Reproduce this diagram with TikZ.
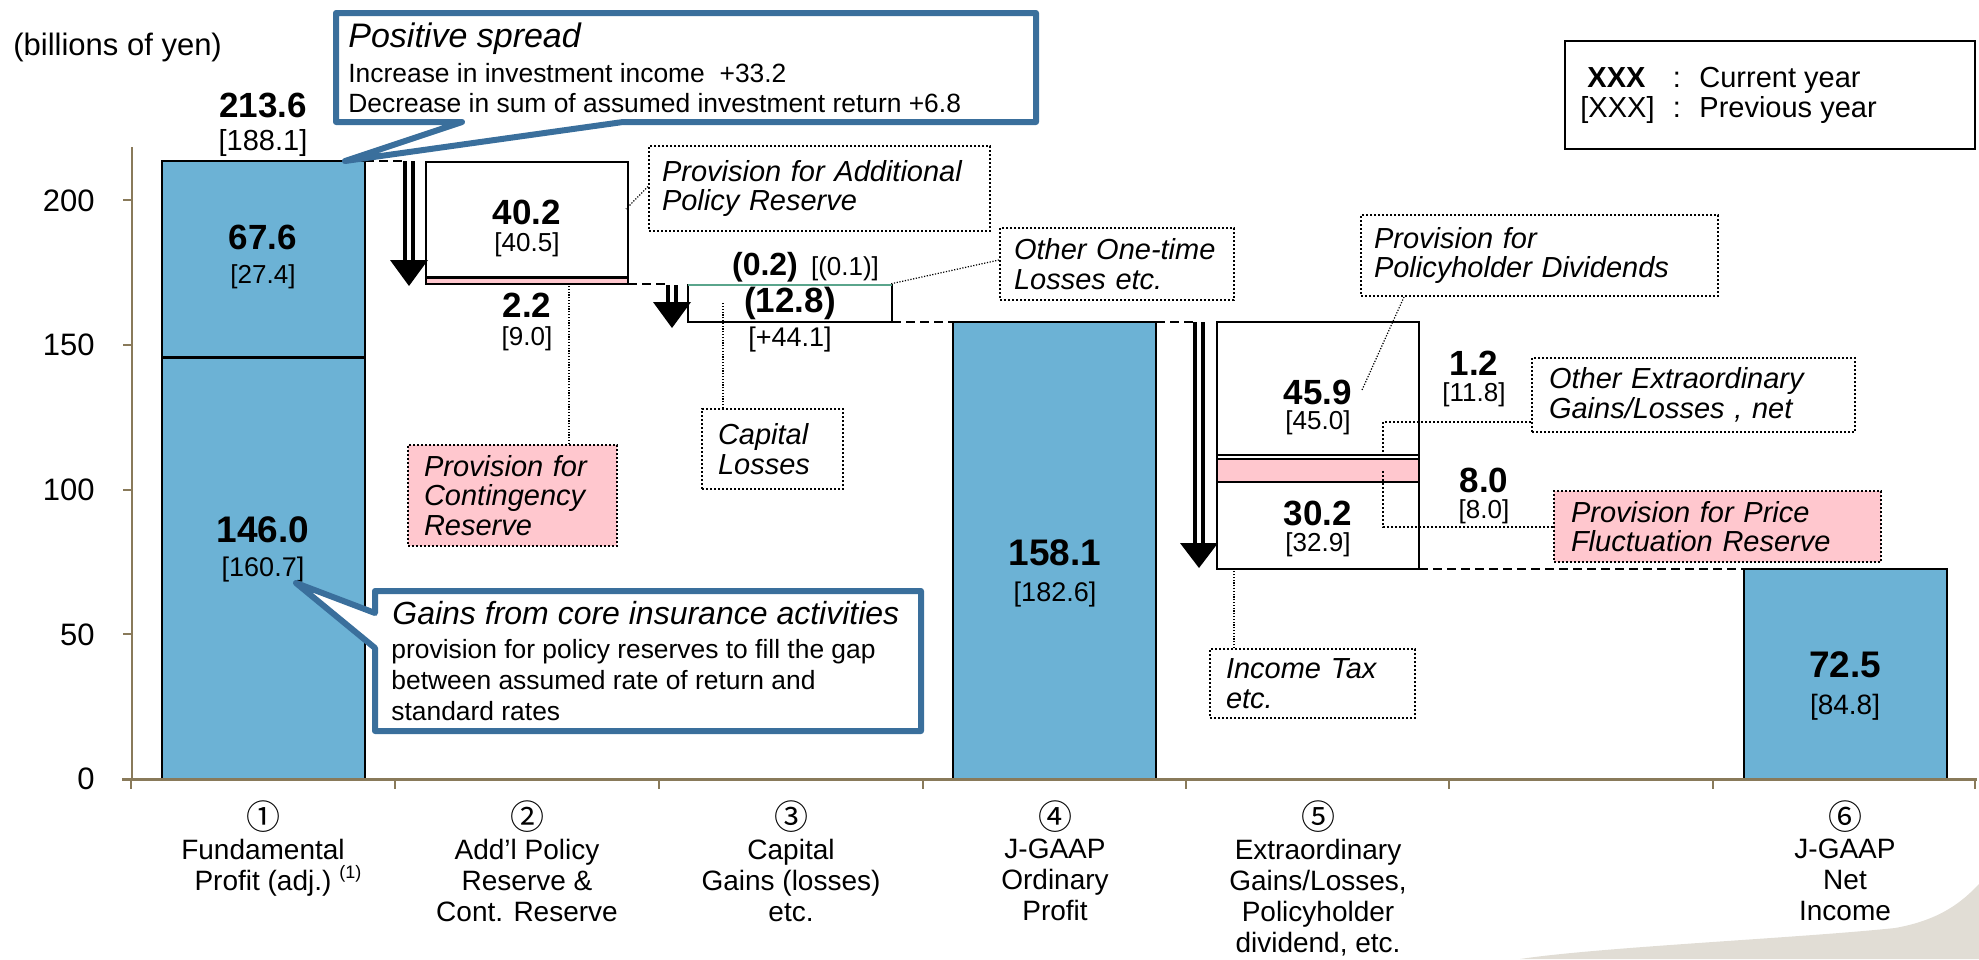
\documentclass[tikz,border=0pt]{standalone}
\usepackage{fontspec}
\setmainfont{Liberation Sans}
\newfontfamily\circfont{Noto Sans CJK JP}
\usetikzlibrary{calc}

\definecolor{barblue}{RGB}{108,178,213}
\definecolor{pinkfill}{RGB}{255,199,206}
\definecolor{calloutblue}{RGB}{58,111,156}
\definecolor{axiscol}{RGB}{137,122,90}
\definecolor{curlgrey}{RGB}{225,221,213}
\definecolor{slicegreen}{RGB}{90,165,140}

\tikzset{
  bar/.style={fill=barblue, draw=black, line width=1pt},
  stepbox/.style={fill=white, draw=black, line width=1pt},
  joinline/.style={draw=black, line width=1.2pt, dash pattern=on 4.5pt off 2.5pt},
  leader/.style={draw=black, line width=0.6pt, dash pattern=on 0.6pt off 0.8pt},
  elbow/.style={draw=black, line width=1pt, dash pattern=on 1pt off 1pt},
  note/.style={draw=black, line width=1pt, dash pattern=on 1pt off 1pt, fill=white,
    align=left, inner ysep=0pt, font=\fontsize{14.5pt}{14.75pt}\selectfont\itshape},
  pinknote/.style={note, fill=pinkfill},
  valbig/.style={font=\fontsize{18.5pt}{20pt}\selectfont\bfseries, inner sep=0pt},
  val/.style={font=\fontsize{17.5pt}{20pt}\selectfont\bfseries, inner sep=0pt},
  prev/.style={font=\fontsize{13pt}{15pt}\selectfont, inner sep=0pt},
  prevbig/.style={font=\fontsize{13.5pt}{15pt}\selectfont, inner sep=0pt},
  ytick/.style={font=\fontsize{15.5pt}{18pt}\selectfont, anchor=east, inner sep=0pt},
  catlabel/.style={font=\fontsize{14pt}{15.5pt}\selectfont, align=center, anchor=north, inner sep=0pt},
  circnum/.style={font=\circfont\fontsize{17pt}{18pt}\selectfont, inner sep=0pt},
  callout/.style={draw=calloutblue, line width=3pt, fill=white, line join=round},
  calltitle/.style={anchor=base west, inner sep=0pt, font=\itshape},
  calltext/.style={anchor=base west, inner sep=0pt, font=\fontsize{13.2pt}{15pt}\selectfont},
  legendtext/.style={inner sep=0pt, font=\fontsize{14.5pt}{16pt}\selectfont},
  shaft/.style={draw=black, line width=2pt},
}

% downward double-shafted arrow: x, shaft top, head base, tip
\newcommand\dblarrow[4]{%
  \fill[white] (#1-4,#2) rectangle (#1+4,#3);
  \draw[shaft] (#1-4,#2) -- (#1-4,#3+1);
  \draw[shaft] (#1+4,#2) -- (#1+4,#3+1);
  \fill[black] (#1-19,#3) -- (#1+19,#3) -- (#1,#4) -- cycle;}

\begin{document}
\begin{tikzpicture}[x=0.5pt,y=-0.5pt]
\useasboundingbox (0,0) rectangle (1979,959);

% page curl in the lower right corner
\fill[curlgrey] (1520,959) .. controls (1600,947) and (1800,938) .. (1895,928)
  .. controls (1940,920) and (1962,902) .. (1979,884) -- (1979,959) -- cycle;

% corner points of the waterfall
\coordinate (b1NE) at (365,161);
\coordinate (b2NW) at (426,162);
\coordinate (b2SE) at (628,284);
\coordinate (b3NW) at (688,285);
\coordinate (b3SE) at (892,322);
\coordinate (b4NW) at (953,322);
\coordinate (b4NE) at (1156,322);
\coordinate (b5NW) at (1217,322);
\coordinate (b5SE) at (1419,569);
\coordinate (b6NW) at (1744,569);

% bars and step boxes
\draw[bar] (162,161) rectangle (365,779);
\draw[line width=1.5pt] (162,357) -- (365,357);
\draw[stepbox] (b2NW) rectangle (628,277);
\draw[stepbox, fill=pinkfill] (426,277) rectangle (b2SE);
\draw[line width=1.5pt] (426,277) -- (628,277);
\draw[stepbox] (b3NW) rectangle (b3SE);
\draw[slicegreen, line width=1pt] (b3NW) -- (892,285);
\draw[bar] (b4NW) rectangle (1156,779);
\draw[stepbox] (b5NW) rectangle (b5SE);
\draw[line width=1pt] (1217,455) -- (1419,455);
\draw[stepbox, fill=pinkfill] (1217,459) rectangle (1419,482);
\draw[bar] (b6NW) rectangle (1947,779);

% dashed level joins
\draw[joinline] (b1NE) -- (403,161);
\draw[joinline] (b2SE) -- (666,284);
\draw[joinline] (b3SE) -- (b4NW);
\draw[joinline] (b4NE) -- (1193,322);
\draw[joinline] (b5SE) -- (b6NW);

% downward arrows
\dblarrow{409}{161}{260}{286}
\dblarrow{672}{285}{302}{328}
\dblarrow{1199}{322}{543}{568}

% axes
\draw[axiscol, line width=1pt] (132,147) -- (132,779);
\foreach \yy in {200.4,345,489.7,634.4,779}
  \draw[axiscol, line width=1pt] (123,\yy) -- (132,\yy);
\draw[axiscol, line width=1.5pt] (122,779) -- (1977,779);
\foreach \xx in {131,395,659,923,1186,1449,1713,1975}
  \draw[axiscol, line width=1pt] (\xx,779) -- (\xx,789);

\node[ytick] (y200) at (95,200.4) {200};
\node[ytick] (y150) at (95,345) {150};
\node[ytick] (y100) at (95,489.7) {100};
\node[ytick] (y50) at (95,634.4) {50};
\node[ytick] (y0) at (95,779) {0};
\node[anchor=west, inner sep=0pt, font=\fontsize{15.5pt}{18pt}\selectfont] (unit) at (13,47) {(billions of yen)};

% values: current year (bold) and previous year [in brackets]
\node[val] (v1tot) at (263,105) {213.6};
\node[inner sep=0pt, font=\fontsize{14.5pt}{16pt}\selectfont] (v1totp) at (263,143) {[188.1]};
\node[val] (v1a) at (263,237) {67.6};
\node[prev] (v1ap) at (263,277) {[27.4]};
\node[valbig] (v1b) at (263,530) {146.0};
\node[prevbig] (v1bp) at (263,570) {[160.7]};
\node[val] (v2a) at (527,212) {40.2};
\node[prev] (v2ap) at (527,245) {[40.5]};
\node[val] (v2b) at (527,305) {2.2};
\node[prev] (v2bp) at (527,339) {[9.0]};
\node[inner sep=0pt, anchor=base, font=\fontsize{16pt}{18pt}\selectfont\bfseries] (v3a) at (765,275) {(0.2)};
\node[inner sep=0pt, anchor=base, font=\fontsize{13pt}{15pt}\selectfont] (v3ap) at (845,275) {[(0.1)]};
\node[val] (v3b) at (790,303) {(12.8)};
\node[prevbig] (v3bp) at (790,340) {[+44.1]};
\node[valbig] (v4) at (1055,553) {158.1};
\node[prevbig] (v4p) at (1055,595) {[182.6]};
\node[val] (v5a) at (1318,392) {45.9};
\node[prev] (v5ap) at (1318,423) {[45.0]};
\node[val] (v5b) at (1318,513) {30.2};
\node[prev] (v5bp) at (1318,545) {[32.9]};
\node[val] (v5c) at (1474,363) {1.2};
\node[prev] (v5cp) at (1474,395) {[11.8]};
\node[val] (v5d) at (1484,480) {8.0};
\node[prev] (v5dp) at (1484,512) {[8.0]};
\node[valbig] (v6) at (1845,665) {72.5};
\node[prevbig, font=\fontsize{14pt}{15pt}\selectfont] (v6p) at (1845,707) {[84.8]};

% leader end points
\coordinate (addlend) at (626,209);
\coordinate (contend) at (569,284);
\coordinate (onetimeend) at (890,284);
\coordinate (capend) at (723,302);
\coordinate (pdfoot) at (1404,296);
\coordinate (pdend) at (1362,390);
\coordinate (oxend) at (1383,455);
\coordinate (pfend) at (1383,471);
\coordinate (taxend) at (1234,569);

% dotted notes
\node[note, inner xsep=6.5pt, text width=157.5pt, minimum height=42.5pt] (addl) at (819.5,188.5)
  {Provision for Additional\\Policy Reserve};
\node[note, inner xsep=7pt, text width=103pt, minimum height=36pt] (onetime) at (1117,264)
  {Other One-time\\Losses etc.};
\node[note, inner xsep=6.5pt, text width=165.5pt, minimum height=40.5pt] (poldiv) at (1539.5,255.5)
  {Provision for\\Policyholder Dividends};
\node[note, inner xsep=8.5pt, text width=144.5pt, minimum height=37pt] (oextra) at (1693.5,395)
  {Other Extraordinary\\Gains/Losses , net};
\node[pinknote, inner xsep=8.5pt, text width=146.5pt, minimum height=35.5pt] (pfr) at (1717.5,526.5)
  {Provision for Price\\Fluctuation Reserve};
\node[pinknote, inner xsep=8pt, text width=88.5pt, minimum height=50.5pt] (cont) at (512.5,495.5)
  {Provision for\\Contingency\\Reserve};
\node[note, inner xsep=8pt, text width=54.5pt, minimum height=40pt] (caploss) at (772.5,449)
  {Capital\\Losses};
\node[note, inner xsep=8pt, text width=86.5pt, minimum height=34.5pt] (itax) at (1312.5,683.5)
  {Income Tax\\etc.};

% leaders from notes to the slices they describe
\draw[leader] ($(addl.west)+(0,-2)$) -- (addlend);
\draw[leader] (contend |- cont.north) -- (contend);
\draw[leader] ($(onetime.west)+(0,-4)$) -- (onetimeend);
\draw[leader] (capend |- caploss.north) -- (capend);
\draw[leader] (pdfoot |- poldiv.south) -- (pdend);
\draw[elbow] ($(oextra.south west)+(0,-11)$) -| (oxend);
\draw[elbow] (pfr.west) -| (pfend);
\draw[leader] (taxend |- itax.north) -- (taxend);

% category labels
\node[circnum] (c1) at (263,817) {①};
\node[circnum] (c2) at (527,817) {②};
\node[circnum] (c3) at (791,817) {③};
\node[circnum] (c4) at (1055,817) {④};
\node[circnum] (c5) at (1318,817) {⑤};
\node[circnum] (c6) at (1845,817) {⑥};
\node[catlabel] (l1) at (263,839) {Fundamental\\Profit (adj.)\rlap{\hspace{4pt}\raisebox{0.8ex}{\fontsize{9pt}{9pt}\selectfont(1)}}};
\node[catlabel] (l2) at (527,839) {Add’l Policy\\Reserve \&\\Cont. Reserve};
\node[catlabel] (l3) at (791,839) {Capital\\Gains (losses)\\etc.};
\node[catlabel] (l4) at (1055,839) {J-GAAP\\Ordinary\\Profit};
\node[catlabel] (l5) at (1318,839) {Extraordinary\\Gains/Losses,\\Policyholder\\dividend, etc.};
\node[catlabel] (l6) at (1845,839) {J-GAAP\\Net\\Income};

% legend
\draw[line width=1.2pt] (1565,41) rectangle (1975,149);
\node[legendtext, anchor=base west, font=\fontsize{14.5pt}{16pt}\selectfont\bfseries] (lgcur) at (1587,87) {XXX};
\node[legendtext, anchor=base west] (lgprev) at (1580,117) {[XXX]};
\node[legendtext, anchor=base] (lgc1) at (1677,87) {:};
\node[legendtext, anchor=base] (lgc2) at (1677,117) {:};
\node[legendtext, anchor=base west] (lgcurt) at (1699,87) {Current year};
\node[legendtext, anchor=base west] (lgprevt) at (1699,117) {Previous year};

% blue callouts
\coordinate (spreadtip) at (345,161);
\coordinate (coretip) at (296,583);
\draw[callout] (336,13) -- (1036,13) -- (1036,122) -- (623,122) -- (spreadtip)
  -- (462,122) -- (336,122) -- cycle;
\node[calltitle, font=\fontsize{17pt}{20pt}\selectfont\itshape] (spreadt) at (348,47) {Positive spread};
\node[calltext] (spread1) at (348,82) {Increase in investment income\ \ +33.2};
\node[calltext] (spread2) at (348,112) {Decrease in sum of assumed investment return +6.8};

\draw[callout] (375,591) -- (921,591) -- (921,731) -- (375,731) -- (375,648)
  -- (coretip) -- (375,613) -- cycle;
\node[calltitle, font=\fontsize{16pt}{18pt}\selectfont\itshape] (coret) at (392,624) {Gains from core insurance activities};
\node[calltext] (core1) at (391,658) {provision for policy reserves to fill the gap};
\node[calltext] (core2) at (391,689) {between assumed rate of return and};
\node[calltext] (core3) at (391,720) {standard rates};

\end{tikzpicture}
\end{document}
